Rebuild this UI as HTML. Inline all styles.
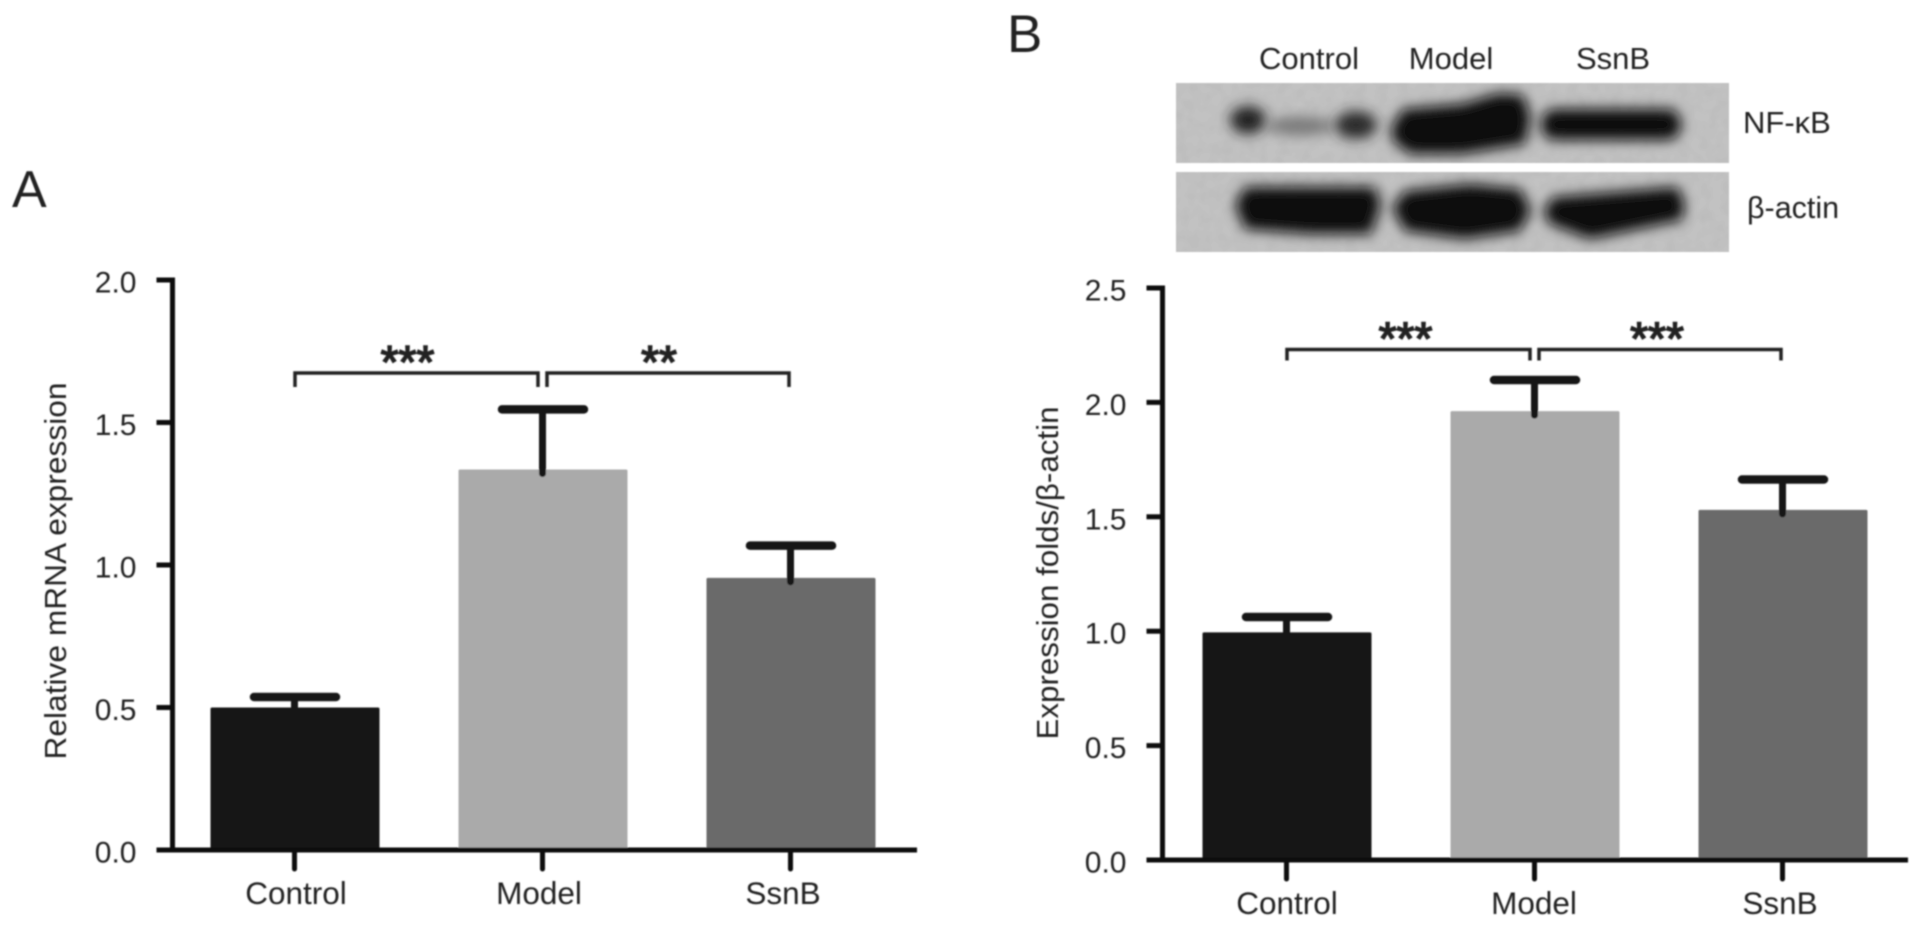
<!DOCTYPE html>
<html lang="en">
<head>
<meta charset="utf-8">
<title>NF-κB expression bar charts</title>
<style>
  html, body { margin: 0; padding: 0; background: #fff; }
  body { width: 1923px; height: 927px; overflow: hidden; }
  svg { display: block; }
  text { font-family: "Liberation Sans", "DejaVu Sans", sans-serif; fill: #222; }
</style>
</head>
<body>
<svg id="figure" xmlns="http://www.w3.org/2000/svg" width="1923" height="927" viewBox="0 0 1923 927">
  <defs>
    <filter id="soft" x="-5%" y="-5%" width="110%" height="110%"><feGaussianBlur stdDeviation="0.7"/></filter>
    <filter id="band" x="-30%" y="-60%" width="160%" height="220%"><feGaussianBlur stdDeviation="6.5"/></filter>
    <filter id="mottle" x="0" y="0" width="100%" height="100%">
      <feTurbulence type="fractalNoise" baseFrequency="0.09" numOctaves="2" seed="4"/>
      <feColorMatrix type="matrix" values="0 0 0 0 0.45  0 0 0 0 0.45  0 0 0 0 0.45  1.6 0 0 0 -0.55"/>
    </filter>
    <clipPath id="clip-top"><rect x="1176" y="83" width="553" height="80"/></clipPath>
    <clipPath id="clip-bottom"><rect x="1176" y="172" width="553" height="80"/></clipPath>
  </defs>

  <g id="root" filter="url(#soft)">
    <text x="12" y="207" font-size="52">A</text>
    <text x="1007" y="52" font-size="53">B</text>

    <g>
      <text x="1309" y="69" font-size="31" text-anchor="middle">Control</text>
      <text x="1451" y="69" font-size="31" text-anchor="middle">Model</text>
      <text x="1613" y="69" font-size="31" text-anchor="middle">SsnB</text>

      <g clip-path="url(#clip-top)">
        <rect x="1176" y="83" width="553" height="80" fill="#c2c2c2"/>
        <rect x="1176" y="83" width="553" height="80" filter="url(#mottle)" opacity="0.45"/>
        <ellipse cx="1248" cy="120" rx="18" ry="14" fill="#222" filter="url(#band)"/>
        <ellipse cx="1300" cy="126" rx="34" ry="9" fill="#777" filter="url(#band)"/>
        <ellipse cx="1356" cy="125" rx="21" ry="14" fill="#2c2c2c" filter="url(#band)"/>
        <path d="M1391 128L1403 109L1462 104L1499 93L1523 95L1531 118L1525 144L1462 154L1410 154L1393 141Z" fill="#0c0c0c" filter="url(#band)"/>
        <rect x="1541" y="109" width="140" height="31" rx="14" fill="#0e0e0e" filter="url(#band)"/>
      </g>

      <g clip-path="url(#clip-bottom)">
        <rect x="1176" y="172" width="553" height="80" fill="#c2c2c2"/>
        <rect x="1176" y="172" width="553" height="80" filter="url(#mottle)" opacity="0.45"/>
        <path d="M1235 205L1245 187L1375 187L1381 205L1371 234L1310 234L1245 229Z" fill="#0c0c0c" filter="url(#band)"/>
        <path d="M1392 208L1405 191L1470 184L1520 189L1531 210L1520 231L1465 239L1405 231Z" fill="#0c0c0c" filter="url(#band)"/>
        <path d="M1543 212L1553 197L1678 187L1685 205L1682 220L1590 239L1550 224Z" fill="#0c0c0c" filter="url(#band)"/>
      </g>

      <text x="1743" y="133" font-size="31">NF-κB</text>
      <text x="1747" y="218" font-size="30.5">β-actin</text>
    </g>

    <g id="chart-a"></g>
    <g id="chart-b"></g>
  </g>
</svg>

<script>
const categories = ['Control', 'Model', 'SsnB'];
const barColors = ['#141414', '#aaaaaa', '#6b6b6b'];

const aTicks = ['0.0', '0.5', '1.0', '1.5', '2.0'];
const aMeans = [0.50, 1.335, 0.955];
const aErrorTops = [0.537, 1.546, 1.068];
const aStars = ['***', '**'];

const bTicks = ['0.0', '0.5', '1.0', '1.5', '2.0', '2.5'];
const bMeans = [0.995, 1.962, 1.53];
const bErrorTops = [1.062, 2.098, 1.663];
const bStars = ['***', '***'];

const NS = 'http://www.w3.org/2000/svg';

function make(parent, tag, props, text) {
  const el = document.createElementNS(NS, tag);
  for (const k in props) el.setAttribute(k, props[k]);
  if (text !== undefined) el.textContent = text;
  parent.appendChild(el);
  return el;
}

function drawChart(id, opts, ticks, means, errorTops, stars) {
  const g = document.getElementById(id);
  const maxV = parseFloat(ticks[ticks.length - 1]);
  const y = v => opts.y0 - (v / maxV) * (opts.y0 - opts.yTop);
  const x = i => opts.x1 + i * opts.step;

  means.forEach((m, i) => {
    const bar = make(g, 'rect', { x: x(i) - 84.5, y: y(m), width: 169, height: opts.y0 - y(m), rx: 1.5, fill: barColors[i] });
    
    
  });

  errorTops.forEach((t, i) => {
    const stem = make(g, 'line', { x1: x(i) - 0.5, x2: x(i) - 0.5, y1: y(t), y2: y(means[i]) + 4, stroke: '#141414', 'stroke-width': 7, 'stroke-linecap': 'round' });
    
    
    const cap = make(g, 'line', { x1: x(i) - 41, x2: x(i) + 41, y1: y(t), y2: y(t), stroke: '#141414', 'stroke-width': 8.5, 'stroke-linecap': 'round' });
    
    
  });

  const yAxis = make(g, 'line', { x1: opts.axisX, x2: opts.axisX, y1: opts.yTop - 2.5, y2: opts.y0 + 2.5, stroke: '#111', 'stroke-width': 5 });
  
  
  const xAxis = make(g, 'line', { x1: opts.axisX - 16, x2: opts.axisEnd, y1: opts.y0, y2: opts.y0, stroke: '#111', 'stroke-width': 5 });
  
  

  ticks.forEach(t => {
    const v = parseFloat(t);
    const mark = make(g, 'line', { x1: opts.axisX - 16, x2: opts.axisX, y1: y(v), y2: y(v), stroke: '#111', 'stroke-width': 5 });
    
    
    const label = make(g, 'text', { x: opts.axisX - 36, y: y(v) + 12.5, 'font-size': 30, 'text-anchor': 'end' }, t);
    
    
  });

  categories.forEach((c, i) => {
    const mark = make(g, 'line', { x1: x(i) - 0.5, x2: x(i) - 0.5, y1: opts.y0, y2: opts.y0 + 19, stroke: '#111', 'stroke-width': 5, 'stroke-linecap': 'round' });
    
    
    const label = make(g, 'text', { x: x(i) + opts.labelNudge[i], y: opts.y0 + 54, 'font-size': 31.5, 'text-anchor': 'middle' }, c);
    
    
  });

  const title = make(g, 'text', {
    transform: 'translate(' + opts.titleX + ',' + opts.titleY + ') rotate(-90)',
    'font-size': 30.5, 'text-anchor': 'middle', textLength: opts.titleLen, lengthAdjust: 'spacingAndGlyphs'
  }, opts.title);
  
  

  stars.forEach((s, i) => {
    const left = i === 0 ? x(0) : x(1) + 4;
    const right = i === 0 ? x(1) - 5 : x(2) - 2;
    const path = 'M' + left + ' ' + (opts.brY + opts.brDrop) + 'V' + opts.brY + 'H' + right + 'V' + (opts.brY + opts.brDrop);
    const bracket = make(g, 'path', { d: path, fill: 'none', stroke: '#222', 'stroke-width': 3.5 });
    
    
    const mark = make(g, 'text', { x: (left + right) / 2 + opts.starShift, y: opts.brY + 5, 'font-size': 46, 'text-anchor': 'middle', stroke: '#222', 'stroke-width': 1.6 }, s);
    
    
  });
}

drawChart('chart-a', {
  y0: 850, yTop: 280, axisX: 172.5, axisEnd: 917, x1: 295, step: 248,
  labelNudge: [1, -4, -8],
  title: 'Relative mRNA expression', titleX: 66, titleY: 571, titleLen: 377,
  brY: 373, brDrop: 14, starShift: -9
}, aTicks, aMeans, aErrorTops, aStars);

drawChart('chart-b', {
  y0: 860, yTop: 288, axisX: 1162.5, axisEnd: 1908, x1: 1287, step: 248,
  labelNudge: [0, -1, -3],
  title: 'Expression folds/β-actin', titleX: 1058, titleY: 573, titleLen: 333,
  brY: 349.5, brDrop: 11, starShift: -3
}, bTicks, bMeans, bErrorTops, bStars);
</script>
</body>
</html>
